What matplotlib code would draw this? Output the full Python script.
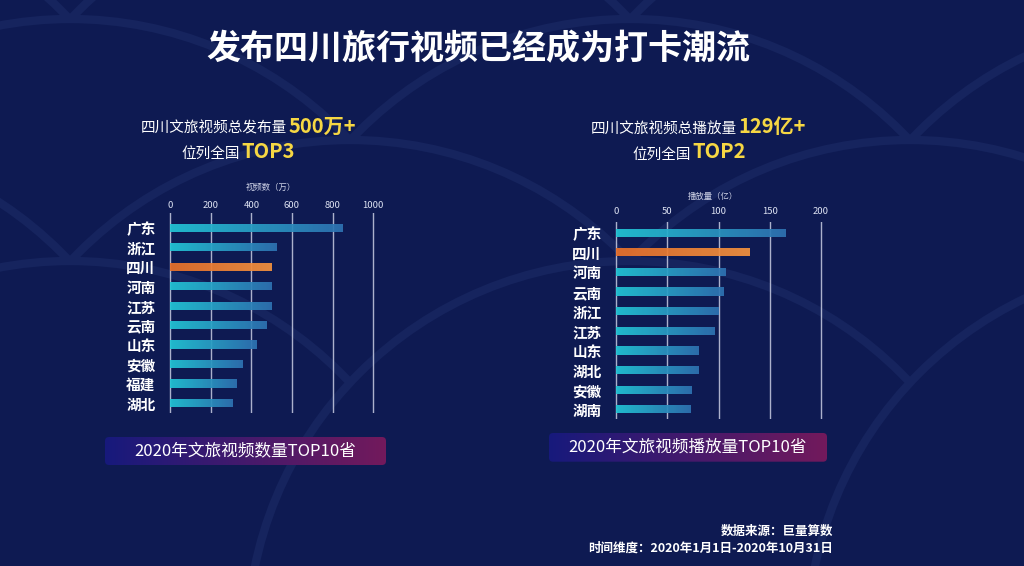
import matplotlib
matplotlib.use("Agg")
import matplotlib.pyplot as plt
import numpy as np
from matplotlib.colors import LinearSegmentedColormap
from matplotlib.patches import FancyBboxPatch, Circle

plt.rcParams["font.family"] = ["Noto Sans CJK SC", "DejaVu Sans"]

# left panel: number of videos published (万)
pub_provinces = ["广东", "浙江", "四川", "河南", "江苏", "云南", "山东", "安徽", "福建", "湖北"]
pub_counts = [848, 526, 497, 497, 497, 475, 428, 357, 328, 307]
pub_ticks = [0, 200, 400, 600, 800, 1000]

# right panel: play count (亿)
play_provinces = ["广东", "四川", "河南", "云南", "浙江", "江苏", "山东", "湖北", "安徽", "湖南"]
play_counts = [165.5, 130, 106.5, 104.5, 100, 96.5, 80.5, 80.5, 74, 73]
play_ticks = [0, 50, 100, 150, 200]

W, H = 1024, 566
BG = "#0e1a52"
blue_cmap = LinearSegmentedColormap.from_list("bar", ["#22c6d6", "#2f72b2"])
orange_cmap = LinearSegmentedColormap.from_list("hl", ["#e8702a", "#f3923f"])
banner_cmap = LinearSegmentedColormap.from_list("banner", ["#17197c", "#721a5c"])
GRAD = np.linspace(0, 1, 128)[None, :]


def px_rect(x0, y0, x1, y1):
    return [x0 / W, 1 - y1 / H, (x1 - x0) / W, (y1 - y0) / H]


def ftext(x, y, s, **kw):
    fig.text(x / W, 1 - y / H, s, **kw)


fig = plt.figure(figsize=(W / 100, H / 100), dpi=100, facecolor=BG)

# decorative background: faint wave-scale arcs, in pixel coords
bg = fig.add_axes([0, 0, 1, 1], zorder=-1)
bg.set_xlim(0, W)
bg.set_ylim(H, 0)
bg.axis("off")
R = 383
for row in range(5):
    cy = 402 + row * 121 - 242
    xs = [70, 630, 1190] if row % 2 == 0 else [-210, 350, 910]
    for cx in xs:
        bg.add_patch(Circle((cx, cy), R, facecolor=BG, edgecolor="#16245e", lw=6, zorder=row))


def panel(rect, provinces, values, ticks, xlim, ylim, tick_pad):
    ax = fig.add_axes(rect)
    ax.set_facecolor("none")
    y = np.arange(len(provinces))
    bars = ax.barh(y, values, height=0.42, color="none", zorder=3)
    for b, name in zip(bars, provinces):
        cmap = orange_cmap if name == "四川" else blue_cmap
        im = ax.imshow(GRAD, cmap=cmap, aspect="auto", alpha=0.93, zorder=3,
                       extent=[b.get_x(), b.get_x() + b.get_width(),
                               b.get_y() + b.get_height(), b.get_y()])
        im.set_clip_path(b)
    ax.set_xlim(*xlim)
    ax.set_ylim(*ylim)
    ax.set_aspect("auto")
    ax.xaxis.tick_top()
    ax.set_xticks(ticks)
    ax.set_yticks(y, provinces)
    ax.tick_params(axis="x", length=0, pad=tick_pad, labelsize=6.8, labelcolor="#dde2f2")
    ax.tick_params(axis="y", length=0, pad=9, labelsize=10.5, labelcolor="white")
    for lab in ax.get_yticklabels():
        lab.set_fontweight("bold")
    ax.grid(axis="x", color="#c9cde2", lw=1, alpha=0.85)
    ax.set_axisbelow(True)
    for s in ax.spines.values():
        s.set_visible(False)
    return ax


panel(px_rect(168, 213.1, 376.3, 412.7), pub_provinces, pub_counts, pub_ticks,
      (-10, 1015), (9.5, -0.75), 2.2)
panel(px_rect(614, 221.7, 824.1, 419.1), play_provinces, play_counts, play_ticks,
      (-2, 203), (9.5, -0.56), 4.4)

# axis unit labels
ftext(271, 187, "视频数（万）", fontsize=6, color="#d0d4e8", ha="center", va="center")
ftext(713, 196, "播放量（亿）", fontsize=6, color="#d0d4e8", ha="center", va="center")

# title
ftext(478, 49, "发布四川旅行视频已经成为打卡潮流", fontsize=24.5, fontweight="bold",
      color="white", ha="center", va="center")

# subtitles: white lead-in + yellow highlight sharing one baseline
YEL = "#f6d743"
for xb, yb, lead, hl in [(286.5, 133, "四川文旅视频总发布量", "500万+"),
                         (239.5, 158, "位列全国", "TOP3"),
                         (736.5, 133, "四川文旅视频总播放量", "129亿+"),
                         (690.5, 158.5, "位列全国", "TOP2")]:
    ftext(xb, yb, lead, fontsize=10.5, fontweight="medium", color="white", ha="right", va="baseline")
    ftext(xb + 2, yb, hl, fontsize=14.5, fontweight="bold", color=YEL, ha="left", va="baseline")

# gradient banners under each chart
for x0, y0, x1, y1, label in [(105, 437, 386, 465, "2020年文旅视频数量TOP10省"),
                              (549, 433, 827, 461.7, "2020年文旅视频播放量TOP10省")]:
    box = FancyBboxPatch((x0, y0), x1 - x0, y1 - y0, boxstyle="round,pad=0,rounding_size=4",
                         facecolor="none", edgecolor="none", zorder=10)
    bg.add_patch(box)
    im = bg.imshow(GRAD, cmap=banner_cmap, aspect="auto", extent=[x0, x1, y1, y0], zorder=10)
    im.set_clip_path(box)
    bg.text((x0 + x1) / 2, (y0 + y1) / 2, label, fontsize=12, color="white",
            ha="center", va="center", zorder=11)
bg.set_xlim(0, W)
bg.set_ylim(H, 0)

# source note
ftext(833, 531, "数据来源：巨量算数", fontsize=9, fontweight="bold", color="white",
      ha="right", va="center")
ftext(833, 548, "时间维度：2020年1月1日-2020年10月31日", fontsize=9, fontweight="bold",
      color="white", ha="right", va="center")

fig.savefig("out.png", dpi=100, facecolor=BG)
